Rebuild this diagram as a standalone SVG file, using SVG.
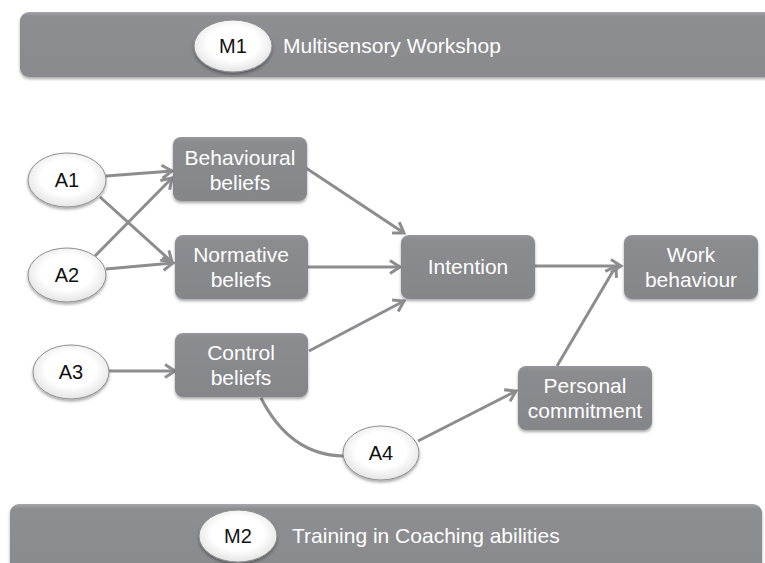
<svg xmlns="http://www.w3.org/2000/svg" width="765" height="563" viewBox="0 0 765 563">
  <defs>
    <style>
      .bar { fill: url(#barFill); filter: url(#shadow); }
      .box { fill: url(#boxFill); filter: url(#shadow); }
      .oval { fill: url(#ovalFill); stroke: #8e8e8e; stroke-width: 1; filter: url(#shadow); }
      .wt { font-family: "Liberation Sans", Arial, sans-serif; font-size: 21px; fill: #ffffff; text-anchor: middle; }
      .bt { font-family: "Liberation Sans", Arial, sans-serif; font-size: 21px; fill: #ffffff; }
      .kt { font-family: "Liberation Sans", Arial, sans-serif; font-size: 20px; fill: #111111; text-anchor: middle; }
      .link { fill: none; stroke: #8d8d8f; stroke-width: 3; }
      .arrow { marker-end: url(#head); }
    </style>
    <linearGradient id="barFill" x1="0" y1="0" x2="0" y2="1">
      <stop offset="0" stop-color="#a6a7aa"/>
      <stop offset="0.06" stop-color="#8d8e91"/>
      <stop offset="1" stop-color="#888a8d"/>
    </linearGradient>
    <linearGradient id="boxFill" x1="0" y1="0" x2="0" y2="1">
      <stop offset="0" stop-color="#959699"/>
      <stop offset="0.08" stop-color="#8b8c8f"/>
      <stop offset="1" stop-color="#85868a"/>
    </linearGradient>
    <radialGradient id="ovalFill" cx="0.5" cy="0.45" r="0.55">
      <stop offset="0.6" stop-color="#ffffff"/>
      <stop offset="1" stop-color="#e4e4e4"/>
    </radialGradient>
    <filter id="shadow" x="-10%" y="-15%" width="120%" height="140%">
      <feGaussianBlur in="SourceAlpha" stdDeviation="1.6"/>
      <feOffset dx="0" dy="2" result="b"/>
      <feComponentTransfer><feFuncA type="linear" slope="0.35"/></feComponentTransfer>
      <feMerge><feMergeNode/><feMergeNode in="SourceGraphic"/></feMerge>
    </filter>
    <marker id="head" viewBox="0 0 16 16" refX="13" refY="8" markerWidth="16" markerHeight="16" orient="auto" markerUnits="userSpaceOnUse">
      <path d="M3,1.5 L13,8 L3,14.5" fill="none" stroke="#8d8d8f" stroke-width="3" stroke-linejoin="miter"/>
    </marker>
  </defs>

  <rect width="765" height="563" fill="#ffffff"/>

  <!-- module bands -->
  <g id="M1">
    <rect class="bar" x="20" y="12" width="760" height="65" rx="9"/>
    <ellipse class="oval" cx="233" cy="46" rx="39" ry="26"/>
    <text class="kt" x="233" y="53" font-size="21">M1</text>
    <text class="bt" x="283" y="53">Multisensory Workshop</text>
  </g>
  <g id="M2">
    <rect class="bar" x="10" y="504" width="752" height="80" rx="9"/>
    <ellipse class="oval" cx="238" cy="536" rx="39" ry="26"/>
    <text class="kt" x="238" y="543" font-size="21">M2</text>
    <text class="bt" x="292" y="543">Training in Coaching abilities</text>
  </g>

  <!-- connectors -->
  <g id="connectors">
    <line class="link arrow" x1="106" y1="176" x2="172" y2="171"/>
    <line class="link arrow" x1="100" y1="197" x2="172" y2="262"/>
    <line class="link arrow" x1="95" y1="256" x2="172" y2="178"/>
    <line class="link arrow" x1="106" y1="269" x2="173" y2="263"/>
    <line class="link arrow" x1="109" y1="371" x2="175" y2="371"/>
    <line class="link arrow" x1="306" y1="168" x2="404" y2="233"/>
    <line class="link arrow" x1="308" y1="267" x2="400" y2="267"/>
    <line class="link arrow" x1="309" y1="351" x2="404" y2="301"/>
    <line class="link arrow" x1="535" y1="266" x2="621" y2="266"/>
    <line class="link arrow" x1="557" y1="366" x2="616" y2="266"/>
    <path class="link" d="M261,398 Q 290,455 343,456"/>
    <line class="link arrow" x1="418" y1="441" x2="516" y2="391"/>
  </g>

  <!-- antecedent ovals -->
  <g id="A1">
    <ellipse class="oval" cx="67" cy="180" rx="39" ry="27"/>
    <text class="kt" x="67" y="187">A1</text>
  </g>
  <g id="A2">
    <ellipse class="oval" cx="67" cy="275" rx="39" ry="27"/>
    <text class="kt" x="67" y="282">A2</text>
  </g>
  <g id="A3">
    <ellipse class="oval" cx="71" cy="372" rx="38" ry="27"/>
    <text class="kt" x="71" y="379">A3</text>
  </g>
  <g id="A4">
    <ellipse class="oval" cx="381" cy="453" rx="38" ry="27"/>
    <text class="kt" x="381" y="460">A4</text>
  </g>

  <!-- construct boxes -->
  <g id="behavioural-beliefs">
    <rect class="box" x="173" y="137" width="134" height="64" rx="8"/>
    <text class="wt" x="240" y="165">Behavioural</text>
    <text class="wt" x="240" y="190">beliefs</text>
  </g>
  <g id="normative-beliefs">
    <rect class="box" x="175" y="235" width="133" height="64" rx="8"/>
    <text class="wt" x="241" y="262">Normative</text>
    <text class="wt" x="241" y="287">beliefs</text>
  </g>
  <g id="control-beliefs">
    <rect class="box" x="175" y="333" width="133" height="64" rx="8"/>
    <text class="wt" x="241" y="360">Control</text>
    <text class="wt" x="241" y="385">beliefs</text>
  </g>
  <g id="intention">
    <rect class="box" x="401" y="235" width="134" height="64" rx="8"/>
    <text class="wt" x="468" y="274">Intention</text>
  </g>
  <g id="work-behaviour">
    <rect class="box" x="624" y="235" width="134" height="64" rx="8"/>
    <text class="wt" x="691" y="262">Work</text>
    <text class="wt" x="691" y="287">behaviour</text>
  </g>
  <g id="personal-commitment">
    <rect class="box" x="518" y="366" width="134" height="64" rx="8"/>
    <text class="wt" x="585" y="393">Personal</text>
    <text class="wt" x="585" y="418">commitment</text>
  </g>
</svg>
